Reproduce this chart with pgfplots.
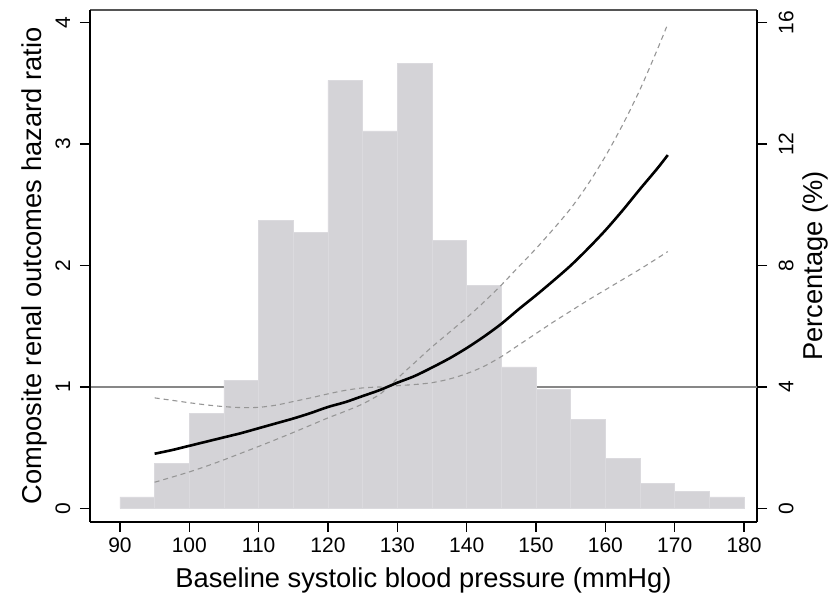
\documentclass[border=0pt]{standalone}
\usepackage{pgfplots}
\pgfplotsset{compat=1.18}
\usepackage{fontspec}
\setmainfont{Liberation Sans}
\definecolor{histgray}{RGB}{212,211,215}
\definecolor{histedge}{RGB}{219,218,222}
\definecolor{ciGray}{RGB}{150,150,150}
\definecolor{refGray}{RGB}{135,135,135}
\definecolor{topGray}{RGB}{85,85,85}
\begin{document}
\begin{tikzpicture}
\useasboundingbox (0,0) rectangle (829pt,595pt);
\pgfplotsset{
  base/.style={
    scale only axis, width=667pt, height=511.7pt,
    at={(90pt,73.3pt)}, anchor=south west,
    xmin=85.68, xmax=181.87,
    tick align=outside, major tick length=10pt,
    every tick/.style={black, line width=1.4pt},
    /pgf/number format/assume math mode=true,
    tick label style={font=\fontsize{21}{24}\selectfont},
  }
}
% right axis: percentage, histogram
\begin{axis}[base,
  axis x line*=top, axis y line*=right,
  xtick=\empty,
  ymin=-0.44, ymax=16.42,
  ytick={0,4,8,12,16},
  x axis line style={line width=1.6pt, topGray, -},
  y axis line style={line width=1.8pt, black, -},
  yticklabel style={xshift=26.3pt, rotate=90, anchor=base},
  every axis y label/.style={at={(axis description cs:1,0.5)}, xshift=65pt, rotate=90, anchor=base, font=\fontsize{27.3}{31}\selectfont},
  ylabel={Percentage (\%)},
]
\addplot[refGray, line width=1.2pt] coordinates {(85.68,4) (181.87,4)};
\addplot[ybar interval, fill=histgray, draw=histedge, line width=0.5pt] coordinates {
(90,0.38) (95,1.48) (100,3.12) (105,4.22) (110,9.5) (115,9.09) (120,14.1) (125,12.44) (130,14.67) (135,8.83) (140,7.35) (145,4.66) (150,3.92) (155,2.94) (160,1.65) (165,0.82) (170,0.57) (175,0.38) (180,0.38)};
\end{axis}
% left axis: hazard ratio
\begin{axis}[base,
  axis x line*=bottom, axis y line*=left,
  ymin=-0.11, ymax=4.105,
  xtick={90,100,...,180},
  ytick={0,1,2,3,4},
  axis line style={line width=1.8pt, black, -},
  yticklabel style={xshift=-10pt, rotate=90, anchor=base},
  xticklabel style={anchor=base, yshift=-20.8pt},
  every axis x label/.style={at={(axis description cs:0.5,0)}, anchor=base, yshift=-65.6pt, font=\fontsize{27.3}{31}\selectfont},
  every axis y label/.style={at={(axis description cs:0,0.5)}, xshift=-48.5pt, rotate=90, anchor=base, font=\fontsize{27.3}{31}\selectfont},
  xlabel={Baseline systolic blood pressure (mmHg)},
  ylabel={Composite renal outcomes hazard ratio},
]
\addplot[ciGray, line width=1.1pt, dash pattern=on 5pt off 4pt, smooth] coordinates {
(95,0.91) (97.5,0.89) (100,0.87) (102.5,0.852) (105,0.838) (107.5,0.83) (110,0.832) (112.5,0.85) (115,0.88) (117.5,0.91) (120,0.943) (122.5,0.972) (125,0.992) (127.5,1.0) (128.7,1.0) (130,1.07) (132.5,1.2) (135,1.33) (137.5,1.45) (140,1.57) (142.5,1.70) (145,1.84) (147.5,1.99) (150,2.14) (152.5,2.30) (155,2.47) (157.5,2.67) (160,2.90) (162.5,3.16) (165,3.45) (167.5,3.78) (169,3.99)};
\addplot[ciGray, line width=1.1pt, dash pattern=on 5pt off 4pt, smooth] coordinates {
(95,0.215) (97.5,0.257) (100,0.30) (102.5,0.348) (105,0.40) (107.5,0.455) (110,0.51) (112.5,0.567) (115,0.625) (117.5,0.685) (120,0.745) (122.5,0.80) (125,0.86) (127.5,0.94) (128.7,1.0) (130,1.01) (132.5,1.02) (135,1.035) (137.5,1.065) (140,1.11) (142.5,1.17) (145,1.25) (147.5,1.345) (150,1.44) (152.5,1.535) (155,1.625) (157.5,1.715) (160,1.80) (162.5,1.885) (165,1.97) (167.5,2.06) (169,2.115)};
\addplot[black, line width=2.6pt, smooth] coordinates {
(95,0.45) (97.5,0.48) (100,0.515) (102.5,0.55) (105,0.585) (107.5,0.62) (110,0.66) (112.5,0.70) (115,0.74) (117.5,0.785) (120,0.835) (122.5,0.875) (125,0.925) (127.5,0.975) (130,1.035) (132.5,1.09) (135,1.16) (137.5,1.235) (140,1.32) (142.5,1.415) (145,1.52) (147.5,1.64) (150,1.755) (152.5,1.875) (155,2.0) (157.5,2.14) (160,2.29) (162.5,2.455) (165,2.63) (167.5,2.80) (169,2.91)};
\end{axis}
\end{tikzpicture}
\end{document}
